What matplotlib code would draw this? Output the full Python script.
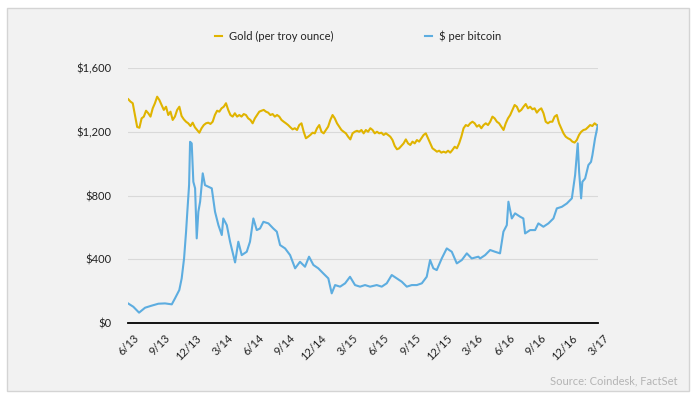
import numpy as np
import matplotlib
matplotlib.use("Agg")
import matplotlib.pyplot as plt
import matplotlib.transforms as mtransforms
from matplotlib.patches import Rectangle

plt.rcParams["font.family"] = ["Lato", "DejaVu Sans"]

# gold: evenly spaced readings (about every 6-7 days), 6/13 .. end of 2/17
gold_start, gold_end = 2013.419, 2017.157
gold_price = [
    1404, 1389, 1379, 1305, 1230, 1225, 1284, 1295, 1332, 1316,
    1295, 1347, 1379, 1420, 1399, 1368, 1337, 1357, 1305, 1326,
    1274, 1295, 1337, 1357, 1299, 1278, 1263, 1253, 1236, 1257,
    1228, 1211, 1194, 1222, 1242, 1253, 1257, 1249, 1263, 1305,
    1332, 1326, 1347, 1357, 1379, 1337, 1305, 1295, 1316, 1295,
    1305, 1295, 1311, 1305, 1284, 1274, 1253, 1284, 1305, 1326,
    1332, 1337, 1326, 1320, 1305, 1311, 1295, 1305, 1295, 1274,
    1263, 1253, 1242, 1228, 1215, 1222, 1211, 1242, 1253, 1200,
    1159, 1169, 1180, 1194, 1190, 1222, 1242, 1200, 1190, 1211,
    1232, 1274, 1305, 1284, 1253, 1232, 1211, 1200, 1190, 1169,
    1152, 1190, 1200, 1206,
    1200, 1211, 1190, 1211, 1200, 1222, 1211, 1190, 1200, 1190,
    1194, 1180, 1190, 1180, 1169, 1148, 1111, 1090, 1096, 1111,
    1127, 1152, 1127, 1117, 1138, 1127, 1148, 1138, 1159, 1180,
    1190, 1159, 1127, 1096, 1086, 1075, 1081, 1069, 1075, 1069,
    1081, 1069, 1086, 1106, 1096, 1127, 1169, 1222, 1242, 1236,
    1253, 1263, 1253, 1232, 1242, 1222, 1242, 1253, 1242, 1263,
    1295, 1284, 1263, 1253, 1232, 1211, 1253, 1284, 1305, 1337,
    1368, 1357, 1326, 1337, 1357, 1374, 1347, 1357, 1341, 1347,
    1320, 1337, 1347, 1316, 1263, 1253, 1263, 1263, 1295, 1305,
    1253, 1222, 1190, 1169, 1159, 1152, 1138, 1132, 1148, 1180,
    1200, 1211, 1215, 1228, 1242, 1236, 1253, 1242,
]

# bitcoin: time as decimal year, price in $
btc_t = [
    2013.417, 2013.459, 2013.505, 2013.553, 2013.606, 2013.659, 2013.712, 2013.766,
    2013.792, 2013.826, 2013.845, 2013.864, 2013.880, 2013.890, 2013.904, 2013.912,
    2013.925, 2013.938, 2013.952, 2013.965, 2013.978, 2013.992, 2014.013, 2014.031,
    2014.058, 2014.085, 2014.111, 2014.138, 2014.165, 2014.177, 2014.205, 2014.231,
    2014.271, 2014.297, 2014.324, 2014.364, 2014.390, 2014.417, 2014.444, 2014.470,
    2014.497, 2014.537, 2014.576, 2014.604, 2014.630, 2014.670, 2014.710, 2014.750,
    2014.789, 2014.829, 2014.861, 2014.896, 2014.935, 2014.975, 2015.015, 2015.042,
    2015.069, 2015.109, 2015.149, 2015.188, 2015.228, 2015.268, 2015.308, 2015.348,
    2015.401, 2015.441, 2015.481, 2015.521, 2015.561, 2015.601, 2015.641, 2015.681,
    2015.721, 2015.761, 2015.800, 2015.827, 2015.853, 2015.880, 2015.920, 2015.960,
    2016.000, 2016.040, 2016.080, 2016.120, 2016.159, 2016.212, 2016.226, 2016.266,
    2016.306, 2016.345, 2016.385, 2016.412, 2016.439, 2016.452, 2016.479, 2016.505,
    2016.545, 2016.571, 2016.585, 2016.625, 2016.665, 2016.691, 2016.731, 2016.771,
    2016.811, 2016.838, 2016.878, 2016.918, 2016.958, 2016.984, 2017.005, 2017.016,
    2017.032, 2017.042, 2017.064, 2017.090, 2017.111, 2017.122, 2017.143, 2017.165,
]
btc_price = [
    123, 102, 65, 96, 109, 121, 123, 117,
    155, 207, 280, 405, 573, 698, 865, 1137,
    1127, 886, 845, 531, 698, 761, 939, 865,
    855, 845, 698, 614, 552, 656, 614, 510,
    380, 510, 426, 447, 510, 656, 583, 593,
    635, 625, 593, 573, 489, 468, 426, 343,
    384, 353, 416, 364, 343, 311, 280, 186,
    238, 228, 249, 290, 238, 228, 238, 228,
    238, 228, 249, 301, 280, 259, 228, 238,
    238, 249, 290, 395, 343, 332, 405, 468,
    447, 374, 395, 437, 405, 416, 405, 426,
    458, 447, 437, 573, 614, 761, 656, 688,
    667, 656, 562, 583, 583, 625, 604, 625,
    656, 719, 729, 750, 782, 928, 1127, 949,
    782, 886, 907, 991, 1011, 1053, 1158, 1241,
]

tick_labels = ["6/13", "9/13", "12/13", "3/14", "6/14", "9/14", "12/14", "3/15",
               "6/15", "9/15", "12/15", "3/16", "6/16", "9/16", "12/16", "3/17"]
y_ticks = [0, 400, 800, 1200, 1600]
y_labels = ["$0", "$400", "$800", "$1,200", "$1,600"]

GOLD = "#e0b400"
BLUE = "#5dade0"
TXT = "#222222"

gold_t = np.linspace(gold_start, gold_end, len(gold_price))

fig = plt.figure(figsize=(6.97, 3.99), dpi=100)
fig.patch.set_facecolor("white")
fig.patches.append(Rectangle((7 / 697, 1 - 391 / 399), 682 / 697, 383 / 399,
                             transform=fig.transFigure, facecolor="#f2f2f2",
                             edgecolor="#d4d4d4", linewidth=1, zorder=-5))

ax = fig.add_axes([128 / 697, 1 - 323 / 399, 470 / 697, 255 / 399])
ax.set_facecolor("none")
ax.set_zorder(2)

ax.plot(gold_t, gold_price, color=GOLD, linewidth=1.5, label="Gold (per troy ounce)")
ax.plot(btc_t, btc_price, color=BLUE, linewidth=1.5, label="$ per bitcoin")

x_ticks = [2013 + 5 / 12 + i * 0.25 for i in range(len(tick_labels))]
ax.set_xlim(x_ticks[0], x_ticks[-1])
ax.set_ylim(0, 1600)

ax.set_yticks(y_ticks)
ax.set_yticklabels(y_labels)
ax.set_xticks(x_ticks)
ax.set_xticklabels(tick_labels, rotation=45, ha="right", va="top",
                   rotation_mode="anchor")
ax.tick_params(axis="both", length=0, labelsize=8, colors=TXT)
ax.tick_params(axis="y", pad=12)
ax.tick_params(axis="x", pad=7)

# nudge the slanted date labels a little to the right, like the original
shift = mtransforms.ScaledTranslation(5 / 100, 0, fig.dpi_scale_trans)
for lbl in ax.get_xticklabels():
    lbl.set_transform(lbl.get_transform() + shift)

for v in y_ticks[1:]:
    ax.axhline(v, color="#d9d9d9", linewidth=0.8, zorder=0)

for s in ["left", "right", "top"]:
    ax.spines[s].set_visible(False)
ax.spines["bottom"].set_color("black")
ax.spines["bottom"].set_linewidth(1.3)

fig.legend(loc="center", bbox_to_anchor=(358 / 697, 1 - 36 / 399), ncol=2,
           frameon=False, fontsize=8, handlelength=0.6, handletextpad=0.6,
           columnspacing=8.3, labelcolor=TXT)

fig.text(678 / 697, 1 - 381 / 399, "Source: Coindesk, FactSet", ha="right",
         va="center", fontsize=8, color="#b4b4b4")

plt.savefig("out.png", dpi=100)
plt.close()
